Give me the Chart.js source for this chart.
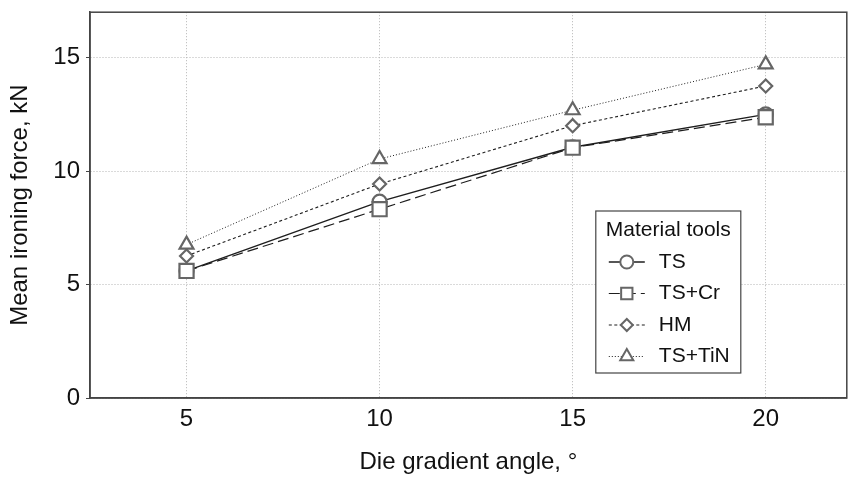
<!DOCTYPE html>
<html>
<head>
<meta charset="utf-8">
<script src="https://cdn.jsdelivr.net/npm/chart.js@4/dist/chart.umd.min.js"></script>
<style>
  html, body { margin: 0; padding: 0; background: #fff; }
  #wrap { width: 859px; height: 478px; }
</style>
</head>
<body>
<div id="wrap"><canvas id="chart" width="859" height="478"></canvas></div>
<script>
// die gradient angle, degrees
const angles = [5, 10, 15, 20];
const xTicks = [5, 10, 15, 20];
const yTicks = [0, 5, 10, 15];

// mean ironing force, kN
const forceTS = [5.6, 8.65, 11.05, 12.5];
const forceTSCr = [5.6, 8.32, 11.03, 12.37];
const forceHM = [6.26, 9.43, 12.0, 13.75];
const forceTSTiN = [6.76, 10.53, 12.68, 14.7];

const seriesNames = ["TS", "TS+Cr", "HM", "TS+TiN"];

const FONT = "'Liberation Sans', Arial, sans-serif";
const markerColor = "#666";

const toPoints = (vals) => vals.map((v, i) => ({ x: angles[i], y: v }));

const makeSet = (label, vals, opts) => ({
  label: label,
  data: toPoints(vals),
  borderColor: "#1e1e1e",
  backgroundColor: "#ffffff",
  pointBorderColor: markerColor,
  pointBackgroundColor: "#ffffff",
  pointBorderWidth: 2.2,
  tension: 0,
  ...opts,
});

const datasets = [
  makeSet(seriesNames[0], forceTS, { pointStyle: "circle", pointRadius: 7, borderWidth: 1.4, borderDash: [], order: 4 }),
  makeSet(seriesNames[1], forceTSCr, { pointStyle: "rect", pointRadius: 10, borderWidth: 1.2, borderDash: [11, 5], order: 3 }),
  makeSet(seriesNames[2], forceHM, { pointStyle: "rectRot", pointRadius: 6.5, borderWidth: 1.1, borderDash: [3, 2.5], order: 2 }),
  makeSet(seriesNames[3], forceTSTiN, { pointStyle: "triangle", pointRadius: 8, borderWidth: 1, borderDash: [1, 2], order: 1 }),
];

// frame around the plot area (top and right sides too)
const framePlugin = {
  id: "frame",
  afterDatasetsDraw(chart) {
    const { ctx, chartArea: a } = chart;
    ctx.save();
    ctx.strokeStyle = "#444";
    ctx.lineWidth = 1.5;
    ctx.setLineDash([]);
    ctx.strokeRect(a.left, a.top, a.right - a.left, a.bottom - a.top);
    ctx.restore();
  },
};

// boxed legend inside the plot, line sample + marker like the original
const boxLegend = {
  id: "boxLegend",
  afterDraw(chart) {
    const { ctx, chartArea: a } = chart;
    const box = { x: a.right - 251, y: 211, w: 145, h: 162 };
    ctx.save();
    ctx.fillStyle = "#fff";
    ctx.fillRect(box.x, box.y, box.w, box.h);
    ctx.strokeStyle = "#444";
    ctx.lineWidth = 1.2;
    ctx.setLineDash([]);
    ctx.strokeRect(box.x, box.y, box.w, box.h);

    ctx.fillStyle = "#111";
    ctx.font = "21px " + FONT;
    ctx.textBaseline = "middle";
    ctx.textAlign = "center";
    ctx.fillText("Material tools", box.x + box.w / 2, box.y + 19);

    ctx.textAlign = "left";
    chart.data.datasets.forEach((ds, i) => {
      const cy = box.y + 51 + i * 31.5;
      const lx = box.x + 13;
      ctx.strokeStyle = ds.borderColor;
      ctx.lineWidth = ds.borderWidth;
      ctx.setLineDash(ds.borderDash || []);
      ctx.beginPath();
      ctx.moveTo(lx, cy);
      ctx.lineTo(lx + 36, cy);
      ctx.stroke();
      ctx.setLineDash([]);
      ctx.strokeStyle = markerColor;
      ctx.fillStyle = "#fff";
      ctx.lineWidth = 2;
      const r = ds.pointStyle === "rect" ? 8 : ds.pointStyle === "triangle" ? 7.5 : ds.pointStyle === "circle" ? 6.5 : 6;
      Chart.helpers.drawPoint(ctx, { pointStyle: ds.pointStyle, rotation: 0, radius: r, borderWidth: 2 }, lx + 18, cy);
      ctx.fillStyle = "#111";
      ctx.fillText(ds.label, box.x + 63, cy);
    });
    ctx.restore();
  },
};

new Chart(document.getElementById("chart"), {
  type: "line",
  data: { datasets: datasets },
  options: {
    responsive: false,
    animation: false,
    layout: { padding: { top: 12, right: 9, left: 0, bottom: 0 } },
    plugins: {
      legend: { display: false },
      tooltip: { enabled: false },
    },
    scales: {
      x: {
        type: "linear",
        min: 2.5,
        max: 22.1,
        afterBuildTicks: (scale) => {
          scale.ticks = xTicks.map((v) => ({ value: v }));
        },
        afterFit: (scale) => {
          scale.height = 80;
          scale.paddingLeft = 0;
          scale.paddingRight = 0;
        },
        grid: { color: "#b5b5b5", lineWidth: 1, drawTicks: false },
        border: { display: true, color: "#444", width: 1.5, dash: [1, 2] },
        ticks: {
          color: "#111",
          font: { family: FONT, size: 24 },
          padding: 7,
          maxRotation: 0,
        },
        title: {
          display: true,
          text: "Die gradient angle, °",
          color: "#111",
          font: { family: FONT, size: 24 },
          padding: { top: 0, bottom: 1 },
        },
      },
      y: {
        min: 0,
        max: 17,
        afterBuildTicks: (scale) => {
          scale.ticks = yTicks.map((v) => ({ value: v }));
        },
        afterFit: (scale) => {
          scale.width = 90;
          scale.paddingTop = 0;
          scale.paddingBottom = 0;
        },
        grid: { color: "#b5b5b5", lineWidth: 1, drawTicks: true, tickLength: 4, tickColor: "#444" },
        border: { display: true, color: "#444", width: 1.5, dash: [1, 2] },
        ticks: {
          color: "#111",
          font: { family: FONT, size: 24 },
          padding: 6,
        },
        title: {
          display: true,
          text: "Mean ironing force, kN",
          color: "#111",
          font: { family: FONT, size: 24 },
          padding: { top: 6, bottom: 0 },
        },
      },
    },
  },
  plugins: [framePlugin, boxLegend],
});
</script>
</body>
</html>
